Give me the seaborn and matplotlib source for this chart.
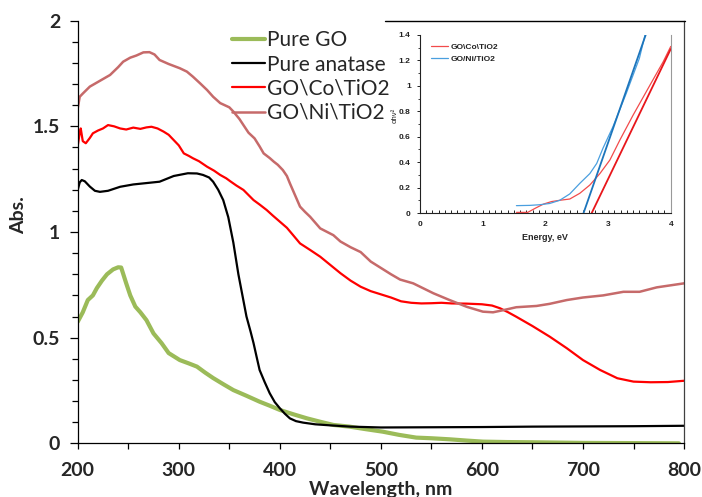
import matplotlib
matplotlib.use('Agg')
import matplotlib.pyplot as plt
import seaborn as sns
import numpy as np
from matplotlib.lines import Line2D
from matplotlib.ticker import MultipleLocator, FuncFormatter

# ---- main spectra (wavelength, nm / absorbance) ----
go_wl = [200, 205, 210, 215, 219, 224, 229, 235, 240, 243, 248, 252, 257, 262, 268,
         275, 283, 290, 301, 310, 318, 326, 334, 344, 354, 367, 380, 390, 400, 413,
         427, 440, 453, 469, 485, 502, 518, 535, 550, 568, 585, 601, 625, 650, 700,
         750, 795]
go_abs = [0.575, 0.62, 0.678, 0.70, 0.735, 0.77, 0.80, 0.823, 0.833, 0.832, 0.757,
          0.70, 0.647, 0.62, 0.583, 0.52, 0.474, 0.427, 0.394, 0.378, 0.363, 0.335,
          0.309, 0.28, 0.252, 0.225, 0.197, 0.178, 0.158, 0.138, 0.118, 0.102, 0.087,
          0.079, 0.067, 0.055, 0.04, 0.027, 0.024, 0.019, 0.013, 0.008, 0.006, 0.005,
          0.002, 0.001, 0.0]

an_wl = [200, 202, 204, 207, 212, 217, 222, 230, 242, 255, 265, 281, 295, 309, 318,
         324, 330, 334, 339, 344, 349, 354, 359, 363, 367, 371, 374, 377, 380, 385,
         390, 395, 400, 405, 410, 416, 423, 435, 450, 470, 500, 550, 600, 650, 700,
         750, 800]
an_abs = [1.199, 1.235, 1.246, 1.24, 1.215, 1.195, 1.19, 1.195, 1.214, 1.225, 1.23,
          1.238, 1.265, 1.278, 1.277, 1.27, 1.258, 1.238, 1.20, 1.151, 1.07, 0.95,
          0.80, 0.70, 0.60, 0.53, 0.474, 0.41, 0.347, 0.29, 0.237, 0.195, 0.166,
          0.14, 0.118, 0.105, 0.098, 0.09, 0.085, 0.079, 0.075, 0.076, 0.077, 0.079,
          0.08, 0.081, 0.083]

co_wl = [200, 202, 203, 205, 208, 212, 215, 220, 225, 230, 236, 242, 248, 255, 262,
         268, 273, 279, 285, 290, 295, 300, 305, 310, 314, 320, 328, 335, 341, 347,
         351, 357, 364, 369, 374, 380, 387, 393, 400, 407, 413, 420, 430, 440, 450,
         460, 470, 480, 490, 500, 510, 520, 530, 540, 550, 560, 570, 585, 600, 610,
         618, 626, 634, 650, 667, 684, 700, 717, 734, 750, 767, 784, 800]
co_abs = [1.407, 1.47, 1.49, 1.43, 1.42, 1.445, 1.467, 1.48, 1.49, 1.506, 1.50, 1.49,
          1.485, 1.494, 1.488, 1.495, 1.498, 1.49, 1.475, 1.46, 1.435, 1.41, 1.372,
          1.36, 1.349, 1.335, 1.309, 1.29, 1.27, 1.254, 1.24, 1.22, 1.199, 1.175,
          1.151, 1.13, 1.104, 1.078, 1.049, 1.02, 0.986, 0.946, 0.915, 0.883, 0.844,
          0.805, 0.77, 0.741, 0.72, 0.705, 0.69, 0.672, 0.665, 0.662, 0.663, 0.665,
          0.662, 0.661, 0.658, 0.652, 0.639, 0.62, 0.599, 0.555, 0.505, 0.45, 0.394,
          0.347, 0.308, 0.292, 0.289, 0.29, 0.296]

ni_wl = [200, 202, 205, 212, 220, 232, 240, 245, 252, 258, 265, 271, 276, 281, 290,
         301, 308, 314, 321, 328, 334, 341, 350, 354, 360, 364, 369, 375, 380, 384,
         390, 394, 398, 403, 407, 410, 415, 420, 425, 430, 440, 453, 460, 470, 480,
         490, 500, 510, 519, 532, 552, 568, 585, 601, 611, 621, 634, 654, 667, 684,
         700, 720, 740, 756, 773, 800]
ni_abs = [1.585, 1.64, 1.655, 1.688, 1.71, 1.743, 1.78, 1.806, 1.825, 1.835, 1.85,
          1.851, 1.84, 1.814, 1.795, 1.775, 1.759, 1.735, 1.704, 1.672, 1.64, 1.61,
          1.59, 1.57, 1.535, 1.506, 1.47, 1.443, 1.405, 1.372, 1.35, 1.333, 1.318,
          1.293, 1.265, 1.23, 1.175, 1.12, 1.095, 1.072, 1.017, 0.985, 0.955, 0.928,
          0.905, 0.86, 0.83, 0.80, 0.775, 0.757, 0.71, 0.678, 0.646, 0.623, 0.62,
          0.63, 0.644, 0.65, 0.66, 0.678, 0.69, 0.70, 0.717, 0.717, 0.738, 0.757]

# ---- inset Tauc plot (energy, eV / (alpha h nu)^2) ----
tauc_co_e = [1.54, 1.72, 1.85, 1.97, 2.1, 2.23, 2.39, 2.55, 2.71, 2.87, 3.03, 3.19,
             3.40, 3.67, 3.88, 4.0]
tauc_co_y = [0.005, 0.005, 0.04, 0.07, 0.09, 0.10, 0.11, 0.155, 0.22, 0.31, 0.417,
             0.575, 0.77, 1.007, 1.19, 1.31]
tauc_ni_e = [1.54, 1.75, 1.91, 2.07, 2.23, 2.39, 2.55, 2.71, 2.82, 2.92, 3.08, 3.29,
             3.50, 3.59]
tauc_ni_y = [0.058, 0.06, 0.065, 0.075, 0.10, 0.15, 0.233, 0.31, 0.39, 0.51, 0.68,
             0.94, 1.217, 1.4]
fit_co_e = [2.74, 4.0]
fit_co_y = [0.0, 1.29]
fit_ni_e = [2.61, 3.6]
fit_ni_y = [0.0, 1.4]

sns.set_theme(style="ticks")
plt.rcParams['font.family'] = ['Lato', 'DejaVu Sans']

fig = plt.figure(figsize=(7.02, 4.97), dpi=100)
ax = fig.add_axes([0.1107, 0.108, 0.8637, 0.8504])

sns.lineplot(x=go_wl, y=go_abs, ax=ax, color='#9BBB59', lw=3.0, estimator=None, label='Pure GO')
sns.lineplot(x=an_wl, y=an_abs, ax=ax, color='black', lw=1.6, estimator=None, label='Pure anatase')
sns.lineplot(x=co_wl, y=co_abs, ax=ax, color='#FF0000', lw=1.6, estimator=None, label='GO\\Co\\TiO2')
sns.lineplot(x=ni_wl, y=ni_abs, ax=ax, color='#C66A6A', lw=1.8, estimator=None, label='GO\\Ni\\TiO2')

ax.set_xlim(200, 800)
ax.set_ylim(0, 2)
ax.xaxis.set_major_locator(MultipleLocator(100))
ax.xaxis.set_minor_locator(MultipleLocator(50))
ax.yaxis.set_major_locator(MultipleLocator(0.5))
ax.yaxis.set_minor_locator(MultipleLocator(0.1))
ax.yaxis.set_major_formatter(FuncFormatter(lambda v, p: f'{v:g}'))
ax.tick_params(which='both', direction='out', color='black', width=0.9)
ax.tick_params(which='major', length=5.5, labelsize=14, pad=7)
ax.tick_params(which='minor', length=4.5)
ax.tick_params(axis='x', which='minor', length=4.5)
ax.tick_params(axis='x', which='major', length=4.5, pad=9)
for lab in ax.get_xticklabels() + ax.get_yticklabels():
    lab.set_fontweight('bold')
ax.spines['top'].set_visible(False)
for s in ['left', 'bottom', 'right']:
    ax.spines[s].set_color('black')
    ax.spines[s].set_linewidth(0.9)
ax.spines['right'].set_color('#404040')

ax.set_xlabel('Wavelength, nm', fontsize=14, fontweight='bold')
ax.xaxis.set_label_coords(0.5, -0.089)
ax.set_ylabel('Abs.', fontsize=14, fontweight='bold')
ax.yaxis.set_label_coords(-0.084, 0.54)

ax.legend(loc='upper left', bbox_to_anchor=(0.255, 0.977), frameon=False,
          fontsize=15, handlelength=1.55, handletextpad=0.1, labelspacing=0.2,
          borderpad=0, borderaxespad=0)

# frame line of the inset picture
fig.add_artist(Line2D([385 / 702, 685 / 702], [1 - 20.5 / 497] * 2,
                      transform=fig.transFigure, color='black', lw=1.0))

# ---- inset ----
ins = fig.add_axes([0.598, 0.5714, 0.3575, 0.3582])
sns.lineplot(x=tauc_co_e, y=tauc_co_y, ax=ins, color='#F24B4B', lw=0.9, estimator=None, label='GO\\Co\\TiO2')
sns.lineplot(x=tauc_ni_e, y=tauc_ni_y, ax=ins, color='#4A9FDF', lw=0.9, estimator=None, label='GO/Ni/TiO2')
sns.lineplot(x=fit_co_e, y=fit_co_y, ax=ins, color='#E8161B', lw=1.3, estimator=None)
sns.lineplot(x=fit_ni_e, y=fit_ni_y, ax=ins, color='#1C75BC', lw=1.3, estimator=None)
ins.set_xlim(0, 4)
ins.set_ylim(0, 1.4)
ins.xaxis.set_major_locator(MultipleLocator(1))
ins.xaxis.set_minor_locator(MultipleLocator(0.1))
ins.yaxis.set_major_locator(MultipleLocator(0.2))
ins.yaxis.set_minor_locator(MultipleLocator(0.1))
ins.yaxis.set_major_formatter(FuncFormatter(lambda v, p: f'{v:g}'))
ins.tick_params(axis='x', which='both', direction='in', length=2.2, width=0.7, color='#222222')
ins.tick_params(axis='y', which='major', direction='out', length=2.5, width=0.7, color='#222222')
ins.tick_params(axis='y', which='minor', direction='out', length=1.5, width=0.6, color='#222222')
ins.tick_params(which='major', labelsize=6, pad=4, labelcolor='#222222')
ins.tick_params(axis='x', which='major', pad=6)
for lab in ins.get_xticklabels() + ins.get_yticklabels():
    lab.set_fontweight('bold')
    lab.set_family(['Liberation Sans', 'DejaVu Sans'])
ins.spines['top'].set_visible(False)
ins.spines['left'].set_color('#222222')
ins.spines['bottom'].set_color('#222222')
ins.spines['right'].set_color('#999999')
for s in ['left', 'bottom', 'right']:
    ins.spines[s].set_linewidth(0.8)
ins.set_xlabel('Energy, eV', fontsize=6.5, fontweight='bold', family=['Liberation Sans', 'DejaVu Sans'])
ins.xaxis.set_label_coords(0.5, -0.11)
ins.set_ylabel('αhν²', fontsize=5.5, family=['Liberation Sans', 'DejaVu Sans'])
ins.yaxis.set_label_coords(-0.085, 0.55)
leg = ins.legend(loc='upper left', bbox_to_anchor=(0.045, 0.955), frameon=False,
                 prop={'size': 6, 'weight': 'bold', 'family': ['Liberation Sans', 'DejaVu Sans']},
                 handlelength=2.0, handletextpad=0.3, labelspacing=0.55,
                 borderpad=0, borderaxespad=0)
for t in leg.get_texts():
    t.set_color('#222222')

fig.savefig('out.png', dpi=100)
